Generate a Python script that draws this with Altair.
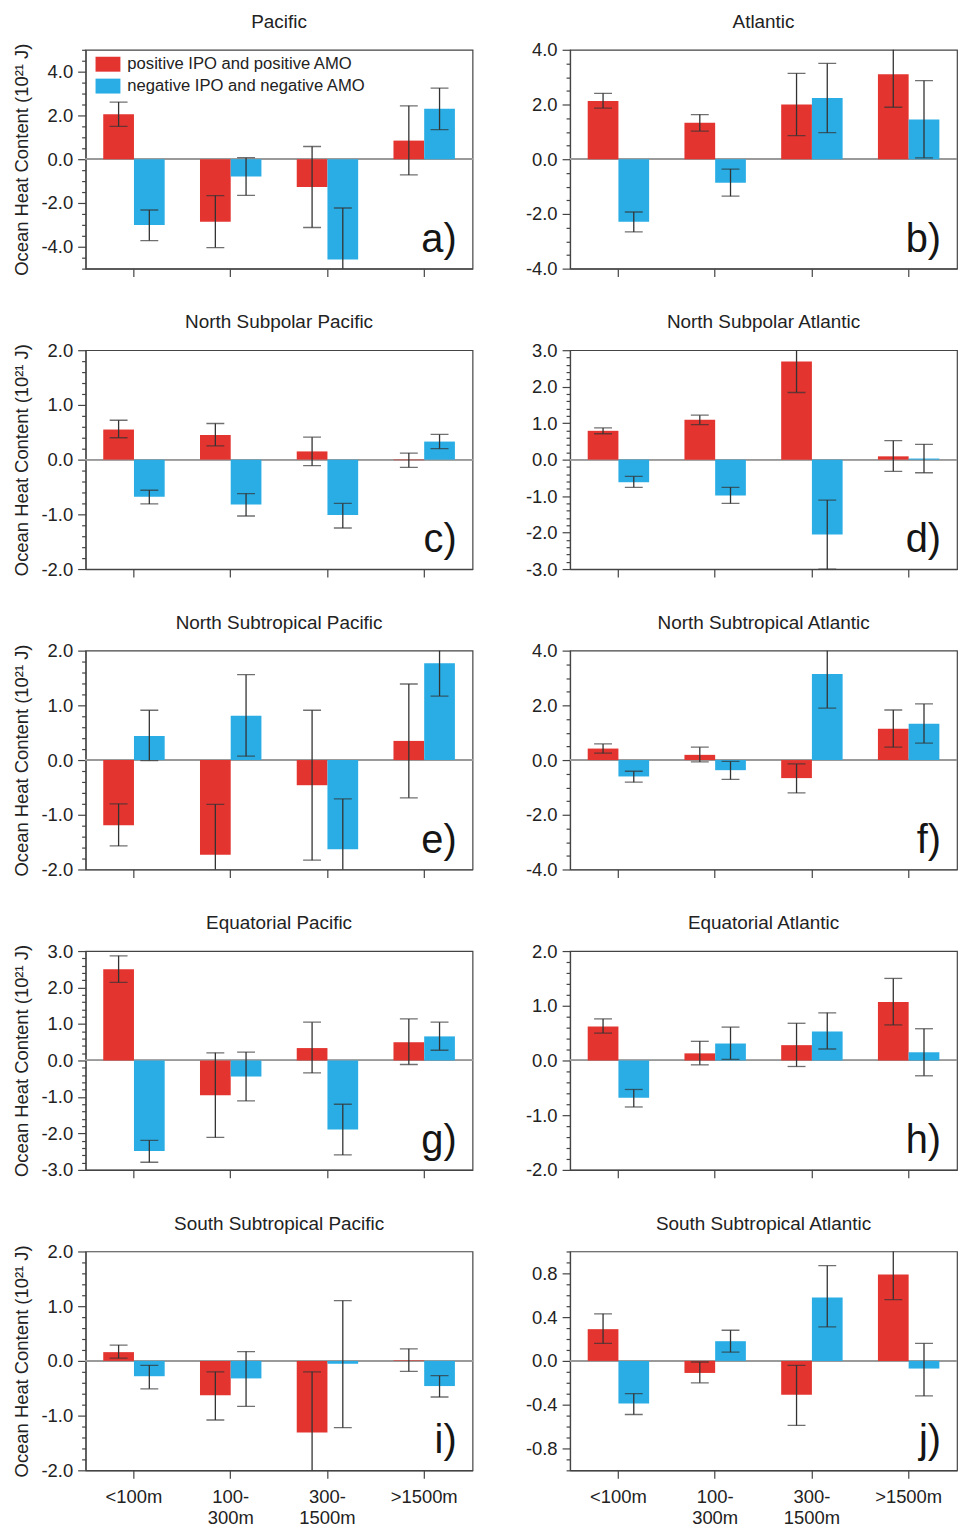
import altair as alt
import pandas as pd

# ---------------- data ----------------
depths = ["<100m", "100-300m", "300-1500m", ">1500m"]
series = ["positive IPO and positive AMO", "negative IPO and negative AMO"]
colors = ["#E3342F", "#29ADE4"]

titles = ["Pacific", "Atlantic",
          "North Subpolar Pacific", "North Subpolar Atlantic",
          "North Subtropical Pacific", "North Subtropical Atlantic",
          "Equatorial Pacific", "Equatorial Atlantic",
          "South Subtropical Pacific", "South Subtropical Atlantic"]
letters = ["a)", "b)", "c)", "d)", "e)", "f)", "g)", "h)", "i)", "j)"]

y_domains = [[-5, 5], [-4, 4], [-2, 2], [-3, 3], [-2, 2],
             [-4, 4], [-3, 3], [-2, 2], [-2, 2], [-1, 1]]
y_major = [[-4, -2, 0, 2, 4], [-4, -2, 0, 2, 4], [-2, -1, 0, 1, 2],
           [-3, -2, -1, 0, 1, 2, 3], [-2, -1, 0, 1, 2], [-4, -2, 0, 2, 4],
           [-3, -2, -1, 0, 1, 2, 3], [-2, -1, 0, 1, 2], [-2, -1, 0, 1, 2],
           [-0.8, -0.4, 0, 0.4, 0.8]]
y_minor_step = [0.5, 0.5, 0.2, 0.2, 0.2, 0.5, 0.2, 0.2, 0.2, 0.1]

# a) Pacific
a_pos = [2.05, -2.86, -1.27, 0.85]
a_pos_hi = [2.61, -1.66, 0.58, 2.44]
a_pos_lo = [1.50, -4.04, -3.12, -0.72]
a_neg = [-3.01, -0.79, -4.58, 2.31]
a_neg_hi = [-2.32, 0.07, -2.23, 3.25]
a_neg_lo = [-3.72, -1.65, -5.3, 1.35]
# b) Atlantic
b_pos = [2.13, 1.33, 2.00, 3.11]
b_pos_hi = [2.41, 1.63, 3.14, 4.3]
b_pos_lo = [1.87, 1.03, 0.86, 1.90]
b_neg = [-2.29, -0.86, 2.24, 1.45]
b_neg_hi = [-1.93, -0.36, 3.50, 2.87]
b_neg_lo = [-2.66, -1.35, 0.97, 0.05]
# c) North Subpolar Pacific
c_pos = [0.55, 0.45, 0.15, -0.01]
c_pos_hi = [0.72, 0.66, 0.41, 0.12]
c_pos_lo = [0.40, 0.25, -0.11, -0.14]
c_neg = [-0.68, -0.82, -1.01, 0.33]
c_neg_hi = [-0.56, -0.62, -0.80, 0.46]
c_neg_lo = [-0.81, -1.03, -1.25, 0.20]
# d) North Subpolar Atlantic
d_pos = [0.79, 1.09, 2.69, 0.09]
d_pos_hi = [0.87, 1.22, 3.1, 0.52]
d_pos_lo = [0.71, 0.96, 1.84, -0.32]
d_neg = [-0.62, -0.98, -2.05, 0.03]
d_neg_hi = [-0.46, -0.76, -1.11, 0.42]
d_neg_lo = [-0.76, -1.20, -3.0, -0.36]
# e) North Subtropical Pacific
e_pos = [-1.19, -1.73, -0.46, 0.35]
e_pos_hi = [-0.80, -0.81, 0.91, 1.39]
e_pos_lo = [-1.57, -2.1, -1.83, -0.69]
e_neg = [0.44, 0.81, -1.63, 1.77]
e_neg_hi = [0.91, 1.56, -0.71, 2.1]
e_neg_lo = [-0.01, 0.07, -2.1, 1.17]
# f) North Subtropical Atlantic
f_pos = [0.42, 0.19, -0.66, 1.14]
f_pos_hi = [0.59, 0.47, -0.14, 1.83]
f_pos_lo = [0.25, -0.07, -1.20, 0.47]
f_neg = [-0.60, -0.37, 3.15, 1.33]
f_neg_hi = [-0.41, -0.05, 4.2, 2.05]
f_neg_lo = [-0.81, -0.71, 1.90, 0.62]
# g) Equatorial Pacific
g_pos = [2.50, -0.95, 0.34, 0.50]
g_pos_hi = [2.87, 0.21, 1.05, 1.14]
g_pos_lo = [2.14, -2.11, -0.34, -0.11]
g_neg = [-2.48, -0.44, -1.89, 0.66]
g_neg_hi = [-2.19, 0.23, -1.20, 1.05]
g_neg_lo = [-2.79, -1.11, -2.59, 0.28]
# h) Equatorial Atlantic
h_pos = [0.62, 0.13, 0.28, 1.07]
h_pos_hi = [0.76, 0.35, 0.68, 1.50]
h_pos_lo = [0.50, -0.08, -0.11, 0.65]
h_neg = [-0.68, 0.31, 0.53, 0.15]
h_neg_hi = [-0.53, 0.61, 0.87, 0.58]
h_neg_lo = [-0.85, 0.02, 0.21, -0.28]
# i) South Subtropical Pacific
i_pos = [0.16, -0.63, -1.31, 0.01]
i_pos_hi = [0.29, -0.20, -0.20, 0.22]
i_pos_lo = [0.05, -1.08, -2.1, -0.19]
i_neg = [-0.28, -0.32, -0.05, -0.46]
i_neg_hi = [-0.08, 0.17, 1.10, -0.27]
i_neg_lo = [-0.51, -0.83, -1.22, -0.66]
# j) South Subtropical Atlantic
j_pos = [0.29, -0.11, -0.31, 0.79]
j_pos_hi = [0.43, -0.01, -0.04, 1.05]
j_pos_lo = [0.16, -0.20, -0.59, 0.56]
j_neg = [-0.39, 0.18, 0.58, -0.07]
j_neg_hi = [-0.30, 0.28, 0.87, 0.16]
j_neg_lo = [-0.49, 0.08, 0.31, -0.32]

panel_data = [
    (a_pos, a_pos_hi, a_pos_lo, a_neg, a_neg_hi, a_neg_lo),
    (b_pos, b_pos_hi, b_pos_lo, b_neg, b_neg_hi, b_neg_lo),
    (c_pos, c_pos_hi, c_pos_lo, c_neg, c_neg_hi, c_neg_lo),
    (d_pos, d_pos_hi, d_pos_lo, d_neg, d_neg_hi, d_neg_lo),
    (e_pos, e_pos_hi, e_pos_lo, e_neg, e_neg_hi, e_neg_lo),
    (f_pos, f_pos_hi, f_pos_lo, f_neg, f_neg_hi, f_neg_lo),
    (g_pos, g_pos_hi, g_pos_lo, g_neg, g_neg_hi, g_neg_lo),
    (h_pos, h_pos_hi, h_pos_lo, h_neg, h_neg_hi, h_neg_lo),
    (i_pos, i_pos_hi, i_pos_lo, i_neg, i_neg_hi, i_neg_lo),
    (j_pos, j_pos_hi, j_pos_lo, j_neg, j_neg_hi, j_neg_lo),
]

# ---------------- style ----------------
W, H = 389, 220
FONT = "Liberation Sans"
AX = "#444444"
ERR = "#333333"
y_title = "Ocean Heat Content (10\u00b2\u00b9 J)"

x_label_expr = ("datum.label === '100-300m' ? ['100-', '300m'] : "
                "datum.label === '300-1500m' ? ['300-', '1500m'] : datum.label")


def make_panel(i):
    pos, pos_hi, pos_lo, neg, neg_hi, neg_lo = panel_data[i]
    rows = []
    for k, d in enumerate(depths):
        rows.append({"depth": d, "series": series[0], "value": pos[k],
                     "hi": pos_hi[k], "lo": pos_lo[k]})
        rows.append({"depth": d, "series": series[1], "value": neg[k],
                     "hi": neg_hi[k], "lo": neg_lo[k]})
    df = pd.DataFrame(rows)

    left = (i % 2 == 0)
    bottom = (i >= 8)
    dom = y_domains[i]
    step = y_minor_step[i]
    n = int(round((dom[1] - dom[0]) / step))
    tick_vals = [round(dom[0] + k * step, 3) + 0.0 for k in range(n + 1)]
    majors = ",".join(str(v) for v in y_major[i])
    test = f"indexof([{majors}], round(datum.value*1000)/1000) >= 0"
    y_axis = alt.Axis(
        values=tick_vals,
        labelExpr=f"{test} ? replace(format(datum.value, '.1f'), '\u2212', '-') : ''",
        tickSize={"condition": {"test": test, "value": 8}, "value": 4},
        labelOverlap=False,
        labelPadding=5,
        title=y_title if left else None,
        titlePadding=10,
        grid=False,
    )
    x_axis = alt.Axis(
        title=None, labels=bottom, labelAngle=0, tickSize=8,
        labelExpr=x_label_expr, labelLineHeight=21, labelPadding=9,
        labelBaseline="top", grid=False, labelOverlap=False,
    )

    x = alt.X("depth:N", sort=depths, axis=x_axis,
              scale=alt.Scale(paddingInner=0.365, paddingOuter=0.1825))
    xo = alt.XOffset("series:N", sort=series,
                     scale=alt.Scale(paddingInner=0, paddingOuter=0))
    yscale = alt.Scale(domain=dom, nice=False, zero=False)

    if i == 0:
        legend = alt.Legend(
            title=None, orient="none", legendX=10, legendY=2, padding=0,
            symbolType="M-1,-0.6L1,-0.6L1,0.6L-1,0.6Z", symbolSize=625,
            symbolStrokeWidth=0, symbolOpacity=1, labelFont=FONT,
            labelFontSize=16.7, labelColor="#222", labelOffset=7,
            rowPadding=0, labelLimit=400,
        )
    else:
        legend = None

    base = alt.Chart(df)
    zero = base.mark_rule(color="#9a9a9a", strokeWidth=1.3).encode(
        y=alt.datum(0, scale=yscale, axis=y_axis))
    bars = base.mark_bar().encode(
        x=x, xOffset=xo,
        y=alt.Y("value:Q", scale=yscale, axis=y_axis),
        color=alt.Color("series:N", sort=series, legend=legend,
                        scale=alt.Scale(domain=series, range=colors)),
    )
    err = base.mark_rule(color=ERR, strokeWidth=1.3, clip=True).encode(
        x=x, xOffset=xo, y=alt.Y("lo:Q", scale=yscale, axis=y_axis), y2="hi:Q")
    cap_hi = base.mark_tick(color=ERR, thickness=1.3, size=18, clip=True,
                            orient="horizontal").encode(
        x=x, xOffset=xo, y=alt.Y("hi:Q", scale=yscale, axis=y_axis))
    cap_lo = base.mark_tick(color=ERR, thickness=1.3, size=18, clip=True,
                            orient="horizontal").encode(
        x=x, xOffset=xo, y=alt.Y("lo:Q", scale=yscale, axis=y_axis))
    letter = alt.Chart(pd.DataFrame({"t": [letters[i]]})).mark_text(
        font=FONT, fontSize=40, align="right", baseline="alphabetic",
        color="#151515").encode(
        text="t:N", x=alt.value(W - 16), y=alt.value(H - 17))

    return alt.layer(zero, bars, err, cap_hi, cap_lo, letter).properties(
        width=W, height=H,
        title=alt.Title(titles[i], frame="group", offset=9),
    )


panels = [make_panel(i) for i in range(10)]

chart = alt.concat(
    *panels, columns=2,
    spacing=alt.RowColnumber(row=33, column=50),
).resolve_scale(
    color="independent"
).properties(
    padding={"left": 3, "top": 0, "right": 1, "bottom": 0}
).configure_view(
    stroke=AX, strokeWidth=1.2
).configure_title(
    font=FONT, fontSize=19, fontWeight="normal", color="#222"
).configure_axis(
    labelFont=FONT, labelFontSize=18.5, labelColor="#222",
    titleFont=FONT, titleFontSize=18.5, titleFontWeight="normal",
    titleColor="#222", domainColor=AX, tickColor=AX, tickWidth=1.2,
    domainWidth=1.2,
).configure_axisY(
    labelOverlap=False
)

chart.save("out.html", embed_options={"renderer": "svg", "actions": False})
